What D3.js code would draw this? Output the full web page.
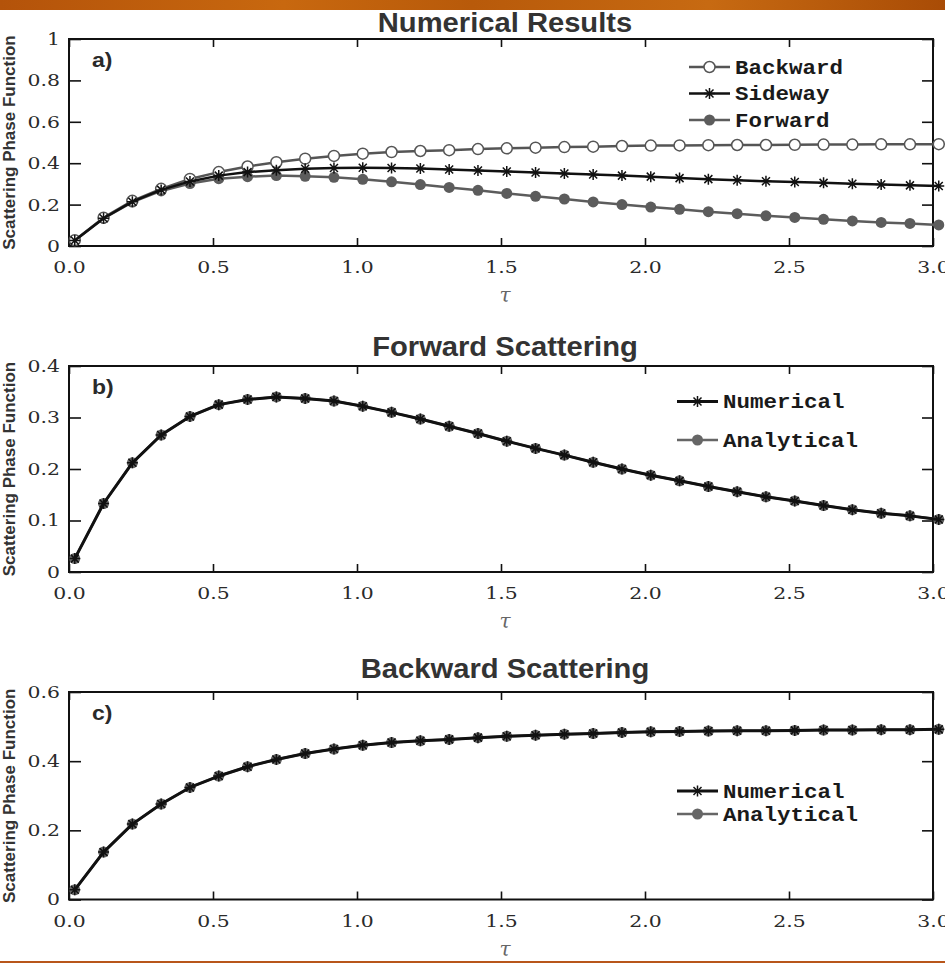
<!DOCTYPE html>
<html><head><meta charset="utf-8">
<script src="https://cdn.jsdelivr.net/npm/d3@7"></script>
<style>html,body{margin:0;padding:0;background:#fff;overflow:hidden}</style>
</head><body><svg id="chart" width="945" height="963"></svg>
<script>
// ---------- data ----------
const tau = [0.02,0.12,0.22,0.32,0.42,0.52,0.62,0.72,0.82,0.92,1.02,1.12,1.22,1.32,1.42,1.52,1.62,1.72,1.82,1.92,2.02,2.12,2.22,2.32,2.42,2.52,2.62,2.72,2.82,2.92,3.02];
const backward = [0.028,0.137,0.218,0.276,0.324,0.357,0.384,0.405,0.422,0.435,0.446,0.454,0.459,0.463,0.468,0.472,0.475,0.478,0.480,0.483,0.485,0.486,0.487,0.488,0.488,0.489,0.490,0.490,0.491,0.491,0.492];
const sideway  = [0.027,0.134,0.214,0.271,0.312,0.340,0.357,0.366,0.373,0.377,0.378,0.377,0.374,0.370,0.365,0.360,0.355,0.350,0.345,0.340,0.335,0.328,0.323,0.318,0.313,0.309,0.305,0.301,0.297,0.293,0.290];
const forward  = [0.026,0.133,0.212,0.266,0.302,0.325,0.335,0.340,0.337,0.332,0.322,0.310,0.297,0.283,0.269,0.254,0.240,0.227,0.213,0.200,0.188,0.177,0.166,0.156,0.146,0.138,0.129,0.121,0.114,0.109,0.102];
const forwardNumerical  = [0.026,0.133,0.212,0.266,0.302,0.325,0.335,0.340,0.337,0.332,0.322,0.310,0.297,0.283,0.269,0.254,0.240,0.227,0.213,0.200,0.188,0.177,0.166,0.156,0.146,0.138,0.129,0.121,0.114,0.109,0.102];
const forwardAnalytical = [0.026,0.133,0.212,0.266,0.302,0.325,0.335,0.340,0.337,0.332,0.322,0.310,0.297,0.283,0.269,0.254,0.240,0.227,0.213,0.200,0.188,0.177,0.166,0.156,0.146,0.138,0.129,0.121,0.114,0.109,0.102];
const backwardNumerical  = [0.028,0.137,0.218,0.276,0.324,0.357,0.384,0.405,0.422,0.435,0.446,0.454,0.459,0.463,0.468,0.472,0.475,0.478,0.480,0.483,0.485,0.486,0.487,0.488,0.488,0.489,0.490,0.490,0.491,0.491,0.492];
const backwardAnalytical = [0.028,0.137,0.218,0.276,0.324,0.357,0.384,0.405,0.422,0.435,0.446,0.454,0.459,0.463,0.468,0.472,0.475,0.478,0.480,0.483,0.485,0.486,0.487,0.488,0.488,0.489,0.490,0.490,0.491,0.491,0.492];
const xTicks = [0,0.5,1,1.5,2,2.5,3];
const yTicksA = [0,0.2,0.4,0.6,0.8,1];
const yTicksB = [0,0.1,0.2,0.3,0.4];
const yTicksC = [0,0.2,0.4,0.6];
const panelTitles = ["Numerical Results","Forward Scattering","Backward Scattering"];
const panelLetters = ["a)","b)","c)"];
const legendA = ["Backward","Sideway","Forward"];
const legendBC = ["Numerical","Analytical"];
const yLabel = "Scattering Phase Function";
const xLabel = "\u03C4";

// ---------- drawing ----------
const svg = d3.select("#chart");
const defs = svg.append("defs");
const grad = defs.append("linearGradient").attr("id","og").attr("x1","0").attr("x2","1");
[["0","#b4530a"],["0.3","#c8680f"],["0.5","#b85a0a"],["0.75","#c76a12"],["1","#a94c06"]].forEach(s=>grad.append("stop").attr("offset",s[0]).attr("stop-color",s[1]));
svg.append("rect").attr("x",0).attr("y",0).attr("width",945).attr("height",10).attr("fill","url(#og)");
svg.append("rect").attr("x",0).attr("y",961).attr("width",945).attr("height",2).attr("fill","#b8561a");

const x = d3.scaleLinear().domain([0,3]).range([69,933]);
const SX = 1.2;

const starPath = "M0,-5.5V5.5M-5.5,0H5.5M-4,-4L4,4M-4,4L4,-4";
const styles = {
  backward:{line:"#555", lw:2.5, marker:"open", mc:"#555"},
  sideway:{line:"#111", lw:2.5, marker:"star", mc:"#111"},
  forward:{line:"#5c5c5c", lw:2.5, marker:"filled", mc:"#5c5c5c"},
  numerical:{line:"#111", lw:3, marker:"star", mc:"#111"},
  analytical:{line:"#666", lw:2.5, marker:"filled", mc:"#666"}
};
function drawMarker(g, type, color, cx, cy){
  if(type==="open") g.append("circle").attr("cx",cx).attr("cy",cy).attr("r",5.5).attr("fill","#fff").attr("stroke",color).attr("stroke-width",1.5);
  else if(type==="filled") g.append("circle").attr("cx",cx).attr("cy",cy).attr("r",5.5).attr("fill",color);
  else g.append("path").attr("d",starPath).attr("transform",`translate(${cx},${cy})`).attr("fill","none").attr("stroke",color).attr("stroke-width",1.5);
}
function drawSeries(g, values, y, st){
  const line = d3.line().x((d,i)=>x(tau[i])).y(d=>y(d));
  g.append("path").datum(values).attr("d",line).attr("fill","none").attr("stroke",st.line).attr("stroke-width",st.lw).attr("stroke-linejoin","round");
  values.forEach((v,i)=>drawMarker(g, st.marker, st.mc, x(tau[i]), y(v)));
}
function stretchText(sel, sx){ sel.attr("transform",`scale(${sx},1)`); }

const panels = [
  {top:39, bottom:246, max:1, ticks:yTicksA, series:[["forward",forward],["backward",backward],["sideway",sideway]],
   legend:{names:legendA, keys:["backward","sideway","forward"], x0:689, rows:[67,93.5,120]}, titleY:32},
  {top:366, bottom:572, max:0.4, ticks:yTicksB, series:[["analytical",forwardAnalytical],["numerical",forwardNumerical]],
   legend:{names:legendBC, keys:["numerical","analytical"], x0:677, rows:[401.5,440]}, titleY:356},
  {top:692, bottom:899.5, max:0.6, ticks:yTicksC, series:[["analytical",backwardAnalytical],["numerical",backwardNumerical]],
   legend:{names:legendBC, keys:["numerical","analytical"], x0:677, rows:[791,814]}, titleY:678}
];

panels.forEach((p,pi)=>{
  const y = d3.scaleLinear().domain([0,p.max]).range([p.bottom,p.top]);
  const g = svg.append("g");
  const yfmt = d => d===0 ? "0" : (d===1 ? "1" : d3.format(".1f")(d));

  // axes
  const ab = g.append("g").attr("transform",`translate(0,${p.bottom})`)
    .call(d3.axisBottom(x).tickValues(xTicks).tickFormat(d3.format(".1f")).tickSize(-8).tickPadding(15));
  const at = g.append("g").attr("transform",`translate(0,${p.top})`)
    .call(d3.axisTop(x).tickValues(xTicks).tickFormat("").tickSize(-8));
  const al = g.append("g").attr("transform",`translate(69,0)`)
    .call(d3.axisLeft(y).tickValues(p.ticks).tickFormat(yfmt).tickSize(-12).tickPadding(9/SX));
  const ar = g.append("g").attr("transform",`translate(933,0)`)
    .call(d3.axisRight(y).tickValues(p.ticks).tickFormat("").tickSize(-11));
  [ab,at,al,ar].forEach(a=>{
    a.select(".domain").remove();
    a.selectAll(".tick line").attr("stroke","#111").attr("stroke-width",1.6);
    a.selectAll(".tick text").attr("font-family","'DejaVu Serif', serif").attr("font-size",17).attr("fill","#2a2a2a");
  });
  stretchText(ab.selectAll(".tick text"), SX);
  stretchText(al.selectAll(".tick text"), SX);
  al.selectAll(".tick text").attr("x", -9/SX);

  // frame
  g.append("rect").attr("x",69).attr("y",p.top).attr("width",933-69).attr("height",p.bottom-p.top)
    .attr("fill","none").attr("stroke","#111").attr("stroke-width",2);

  // series
  p.series.forEach(([k,vals])=>drawSeries(g, vals, y, styles[k]));

  // legend
  p.legend.names.forEach((name,i)=>{
    const st = styles[p.legend.keys[i]], ry = p.legend.rows[i], x0 = p.legend.x0;
    g.append("line").attr("x1",x0).attr("x2",x0+41).attr("y1",ry).attr("y2",ry).attr("stroke",st.line).attr("stroke-width",st.lw);
    drawMarker(g, st.marker, st.mc, x0+20.5, ry);
    g.append("text").attr("transform",`translate(${x0+46},${ry+6.5}) scale(1.125,1)`).text(name)
      .attr("font-family","'Liberation Mono', 'Courier New', monospace").attr("font-weight","bold").attr("font-size",20).attr("fill","#1a1a1a");
  });

  // panel letter
  g.append("text").attr("transform",`translate(92,${p.top+28}) scale(1.15,1)`).text(panelLetters[pi])
    .attr("font-family","'Liberation Sans', Arial, sans-serif").attr("font-weight","bold").attr("font-size",20).attr("fill","#2a2a2a");

  // title
  g.append("text").attr("transform",`translate(505,${p.titleY}) scale(1.08,1)`).attr("text-anchor","middle").text(panelTitles[pi])
    .attr("font-family","'Liberation Sans', Arial, sans-serif").attr("font-weight","bold").attr("font-size",27).attr("fill","#333");

  // y label
  g.append("text").attr("transform",`translate(15,${(p.top+p.bottom)/2}) rotate(-90)`).attr("text-anchor","middle").text(yLabel)
    .attr("font-family","'Liberation Sans', Arial, sans-serif").attr("font-weight","bold").attr("font-size",17).attr("fill","#333");

  // x label
  g.append("text").attr("x",505).attr("y",p.bottom+56).attr("text-anchor","middle").text(xLabel)
    .attr("font-family","'DejaVu Serif', serif").attr("font-style","italic").attr("font-size",20).attr("fill","#666");
});
</script></body></html>
